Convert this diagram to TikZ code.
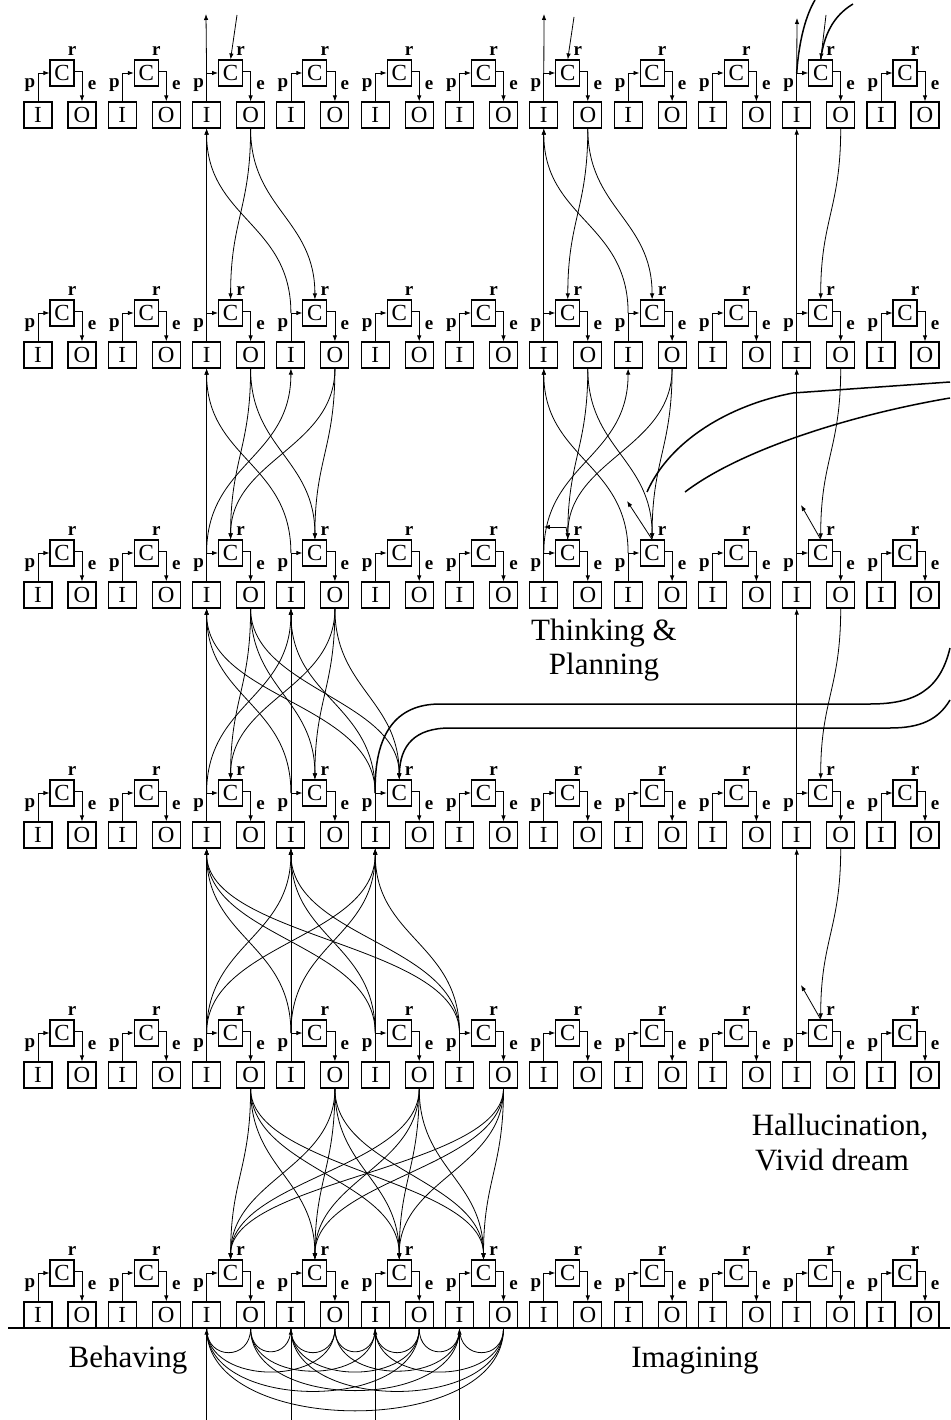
\documentclass[tikz,border=0pt]{standalone}
\usepackage{fontspec}
\setmainfont{Liberation Serif}
\usetikzlibrary{arrows.meta}
\begin{document}
\begin{tikzpicture}[x=1pt,y=-1pt,
  box/.style={draw, line width=1.1pt, minimum width=28pt, minimum height=26pt, inner sep=0pt, font=\fontsize{23}{23}\selectfont},
  cbox/.style={draw, line width=1.1pt, minimum width=24pt, minimum height=26pt, inner sep=0pt, font=\fontsize{23}{23}\selectfont},
  lab/.style={inner sep=0pt, font=\fontsize{19}{19}\selectfont\bfseries},
  big/.style={inner sep=0pt, anchor=base, font=\fontsize{31}{31}\selectfont},
  plain/.style={line width=0.8pt},
  link/.style={line width=0.8pt, -{Latex[length=6pt,width=4.5pt]}},
  heavy/.style={line width=1.5pt},
]
\useasboundingbox (0,0) rectangle (950,1420);
% ---------- units ----------
\foreach \row in {0,...,5}{
  \foreach \col in {0,...,10}{
    \pgfmathsetmacro\ix{38+84.3*\col}
    \pgfmathsetmacro\ox{\ix+44}
    \pgfmathsetmacro\cx{\ix+24}
    \pgfmathsetmacro\yy{115+240*\row}
    \pgfmathsetmacro\cy{\yy-42}
    \node[box] (I-\row-\col) at (\ix,\yy) {I};
    \node[box] (O-\row-\col) at (\ox,\yy) {O};
    \node[cbox] (C-\row-\col) at (\cx,\cy) {C};
    \coordinate (P-\row-\col) at (\ix,\cy);
    \coordinate (E-\row-\col) at (\ox,\cy-2);
    \draw[plain] (I-\row-\col.north) -- (P-\row-\col);
    \draw[link] (P-\row-\col) -- (C-\row-\col.west);
    \draw[link] (C-\row-\col.east |- E-\row-\col) -- (E-\row-\col) -- (O-\row-\col.north);
    \node[lab] at (\cx+10,\cy-22) {r};
    \node[lab] at (\ix-8,\cy+12) {p};
    \node[lab] at (\ox+10,\cy+12) {e};
  }
}
% ---------- ground line ----------
\coordinate (G1) at (8,1328);
\coordinate (G2) at (950,1328);
\draw[line width=2.2pt] (G1) -- (G2);
% ---------- inputs from below ----------
\foreach \k in {2,...,5}{
  \coordinate (B-\k) at (38+84.3*\k,1420);
  \draw[link] (B-\k) -- (I-5-\k.south);
}
% ---------- environment arcs ----------
\foreach \a in {2,...,5}{
  \foreach \b in {2,...,5}{
    \pgfmathsetmacro\d{(14+0.23*abs(44+84.3*(\a-\b)))/0.75}
    \draw[plain] (O-5-\a.south) .. controls +(0,\d) and +(0,\d) .. (I-5-\b.south);
  }
}
% ---------- row 4 -> row 5 ----------
\foreach \a in {2,...,5}{
  \foreach \b in {2,...,5}{
    \draw[link] (O-4-\a.south) .. controls +(0,80) and +(0,-80) .. (C-5-\b.north);
  }
}
% ---------- row 4 -> row 3 (I) ----------
\foreach \a in {2,3,4}{
  \foreach \b in {2,...,5}{
    \draw[link] (P-4-\b) .. controls +(0,-90) and +(0,90) .. (I-3-\a.south);
  }
}
% ---------- row 2 <-> row 3 ----------
\foreach \a in {2,3}{
  \foreach \b in {2,3,4}{
    \draw[link] (P-3-\b) .. controls +(0,-90) and +(0,90) .. (I-2-\a.south);
    \draw[link] (O-2-\a.south) .. controls +(0,80) and +(0,-80) .. (C-3-\b.north);
  }
}
% ---------- row 1 <-> row 2, units 2,3 and 6,7 ----------
\foreach \u in {2,6}{
  \pgfmathtruncatemacro\v{\u+1}
  \draw[link] (P-2-\u) -- (I-1-\u.south);
  \draw[link] (P-2-\v) .. controls +(0,-90) and +(0,90) .. (I-1-\u.south);
  \draw[link] (P-2-\u) .. controls +(0,-90) and +(0,90) .. (I-1-\v.south);
  \foreach \a in {\u,\v}{
    \foreach \b in {\u,\v}{
      \draw[link] (O-1-\a.south) .. controls +(0,80) and +(0,-80) .. (C-2-\b.north);
    }
  }
  % row 0 <-> row 1
  \draw[link] (P-1-\u) -- (I-0-\u.south);
  \draw[link] (P-1-\v) .. controls +(0,-90) and +(0,90) .. (I-0-\u.south);
  \draw[link] (O-0-\u.south) .. controls +(0,80) and +(0,-80) .. (C-1-\u.north);
  \draw[link] (O-0-\u.south) .. controls +(0,80) and +(0,-80) .. (C-1-\v.north);
}
% ---------- column 9 (hallucination) ----------
\foreach \r in {0,...,3}{
  \pgfmathtruncatemacro\s{\r+1}
  \draw[link] (P-\s-9) -- (I-\r-9.south);
  \draw[link] (O-\r-9.south) .. controls +(0,80) and +(0,-80) .. (C-\s-9.north);
}
\coordinate (H2) at (801,505);
\coordinate (H4) at (801,985);
\draw[link] (C-2-9.north) -- (H2);
\draw[link] (C-4-9.north) -- (H4);
% ---------- thinking & planning feedback ----------
\coordinate (F6) at (566,527);
\coordinate (F7) at (627,501);
\draw[plain] (C-2-6.north) -- (F6);
\draw[link] (F6) -- (F6 -| P-2-6);
\draw[link] (C-2-7.north) -- (F7);
% ---------- top ----------
\coordinate (T2) at (206,14);
\coordinate (T6) at (544,14);
\coordinate (T9) at (797,18);
\draw[link] (P-0-2) -- (T2);
\draw[link] (P-0-6) -- (T6);
\draw[link] (P-0-9) -- (T9);
\coordinate (S2) at (237,15);
\coordinate (S6) at (574,17);
\coordinate (S9) at (826,15);
\draw[link] (S2) .. controls (234,35) .. (C-0-2.north);
\draw[link] (S6) .. controls (571,35) .. (C-0-6.north);
\draw[link] (S9) -- (C-0-9.north);
\coordinate (K1) at (815,0);
\coordinate (K2) at (853,4);
\draw[heavy] (P-0-9) .. controls (799,40) and (806,15) .. (K1);
\draw[heavy] (C-0-9.north) .. controls (824,35) and (833,16) .. (K2);
% ---------- long curves from the right ----------
\coordinate (R1) at (950,382);
\coordinate (R2) at (950,398);
\coordinate (R1e) at (647,492);
\coordinate (R2e) at (685,492);
\draw[heavy] (R1) -- (793,393) .. controls (730,405) and (670,440) .. (R1e);
\draw[heavy] (R2) .. controls (850,415) and (740,450) .. (R2e);
\coordinate (R3) at (950,648);
\coordinate (R4) at (950,700);
\draw[heavy] (R3) .. controls (940,690) and (915,704) .. (870,704) -- (440,704) .. controls (395,704) and (374,735) .. (P-3-4);
\draw[heavy,-{Latex[length=6pt,width=4.5pt]}] (R4) .. controls (938,720) and (920,728) .. (890,728) -- (450,728) .. controls (415,728) and (400,745) .. (C-3-4.north);
% ---------- labels ----------
\node[big] (tp1) at (604,640) {Thinking \&};
\node[big] (tp2) at (604,674) {Planning};
\node[big] (hv1) at (840,1135) {Hallucination,};
\node[big] (hv2) at (832,1170) {Vivid dream};
\node[big] (bh) at (128,1367) {Behaving};
\node[big] (im) at (695,1367) {Imagining};
\end{tikzpicture}
\end{document}
